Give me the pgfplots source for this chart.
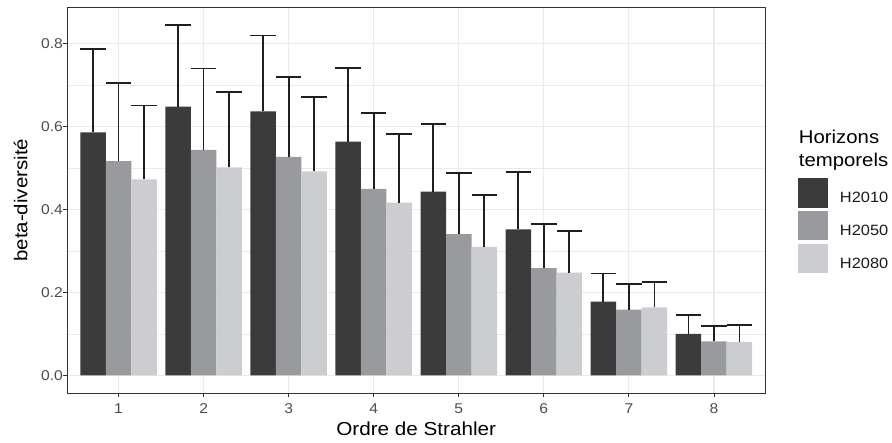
\documentclass[border=0pt]{standalone}
\usepackage{fontspec}
\setmainfont{Liberation Sans}[FakeStretch=1.1]
\usepackage{pgfplots}
\usepackage{pgfplotstable}
\pgfplotsset{compat=1.18}
\definecolor{cA}{HTML}{3B3B3B}
\definecolor{cB}{HTML}{999A9D}
\definecolor{cC}{HTML}{CCCDD0}
\definecolor{gridc}{HTML}{EBEBEB}
\definecolor{axc}{HTML}{333333}
\definecolor{tickc}{HTML}{4D4D4D}

\pgfplotstableread{
x y e
1 0.586 0.202
2 0.648 0.197
3 0.637 0.183
4 0.564 0.178
5 0.443 0.163
6 0.352 0.138
7 0.178 0.068
8 0.100 0.045
}\hA
\pgfplotstableread{
x y e
1 0.517 0.189
2 0.544 0.196
3 0.527 0.192
4 0.450 0.182
5 0.341 0.147
6 0.259 0.107
7 0.159 0.062
8 0.082 0.038
}\hB
\pgfplotstableread{
x y e
1 0.473 0.178
2 0.502 0.181
3 0.492 0.179
4 0.417 0.166
5 0.310 0.126
6 0.248 0.100
7 0.164 0.061
8 0.081 0.040
}\hC

\begin{document}
\begin{tikzpicture}[x=1pt,y=1pt]
\useasboundingbox (-67.5,-50) rectangle (824.5,393);
\begin{axis}[
  at={(0pt,0pt)}, anchor=south west,
  width=697.5pt, height=385.5pt, scale only axis,
  xmin=0.4, xmax=8.6, ymin=-0.0423, ymax=0.8873,
  xtick={1,2,3,4,5,6,7,8},
  xticklabels={1,2,3,4,5,6,7,8},
  ytick={0,0.2,0.4,0.6,0.8},
  yticklabels={0.0,0.2,0.4,0.6,0.8},
  minor ytick={0.1,0.3,0.5,0.7},
  grid=both,
  major grid style={gridc, line width=1.1pt},
  minor grid style={gridc, line width=0.55pt},
  axis line style={axc, line width=0.9pt},
  tick style={axc, line width=0.9pt},
  tick align=outside, major tick length=4.5pt, minor tick length=0pt,
  xtick pos=bottom, ytick pos=left,
  tick label style={font=\fontsize{14.2}{17}\selectfont, text=tickc},
  yticklabel style={anchor=east, inner sep=0pt},
  xticklabel style={anchor=base, inner sep=0pt, yshift=-16.5pt},
  xlabel={Ordre de Strahler},
  ylabel={beta-diversité},
  xlabel style={at={(axis description cs:0.5,-0.109)}, anchor=base, inner sep=0pt,
    font=\fontsize{18.8}{22}\selectfont},
  ylabel style={at={(axis description cs:-0.0571,0.5)}, anchor=south, inner sep=0pt,
    font=\fontsize{18.6}{22}\selectfont},
  ybar, bar width=0.3,
  legend style={at={(axis description cs:1.0477,0.557)}, anchor=north west,
    draw=none, fill=none, inner sep=0pt, outer sep=0pt,
    row sep=3.4pt, column sep=11.7pt,
    font=\fontsize{14.9}{17}\selectfont,
    nodes={inner sep=0pt, text=black!90}},
  legend cell align=left,
  error bars/y dir=plus, error bars/y explicit,
  error bars/error bar style={black!88, line width=1.8pt},
  error bars/error mark options={black!88, line width=1.8pt, mark size=12.75pt, rotate=90},
]
\addplot[fill=cA, draw=none, bar shift=-0.3,
  legend image code/.code={\fill[cA] (0pt,-9.37pt) rectangle (30pt,20.03pt);}]
  table[x=x, y=y, y error=e] {\hA};
\addlegendentry{H2010}
\addplot[fill=cB, draw=none, bar shift=0,
  legend image code/.code={\fill[cB] (0pt,-9.37pt) rectangle (30pt,20.03pt);}]
  table[x=x, y=y, y error=e] {\hB};
\addlegendentry{H2050}
\addplot[fill=cC, draw=none, bar shift=0.3,
  legend image code/.code={\fill[cC] (0pt,-9.37pt) rectangle (30pt,20.03pt);}]
  table[x=x, y=y, y error=e] {\hC};
\addlegendentry{H2080}
\end{axis}
\node[anchor=north west, align=left, inner sep=0pt,
  font=\fontsize{18.5}{22.7}\selectfont] at (731.2,263) {Horizons\\temporels};
\end{tikzpicture}
\end{document}
